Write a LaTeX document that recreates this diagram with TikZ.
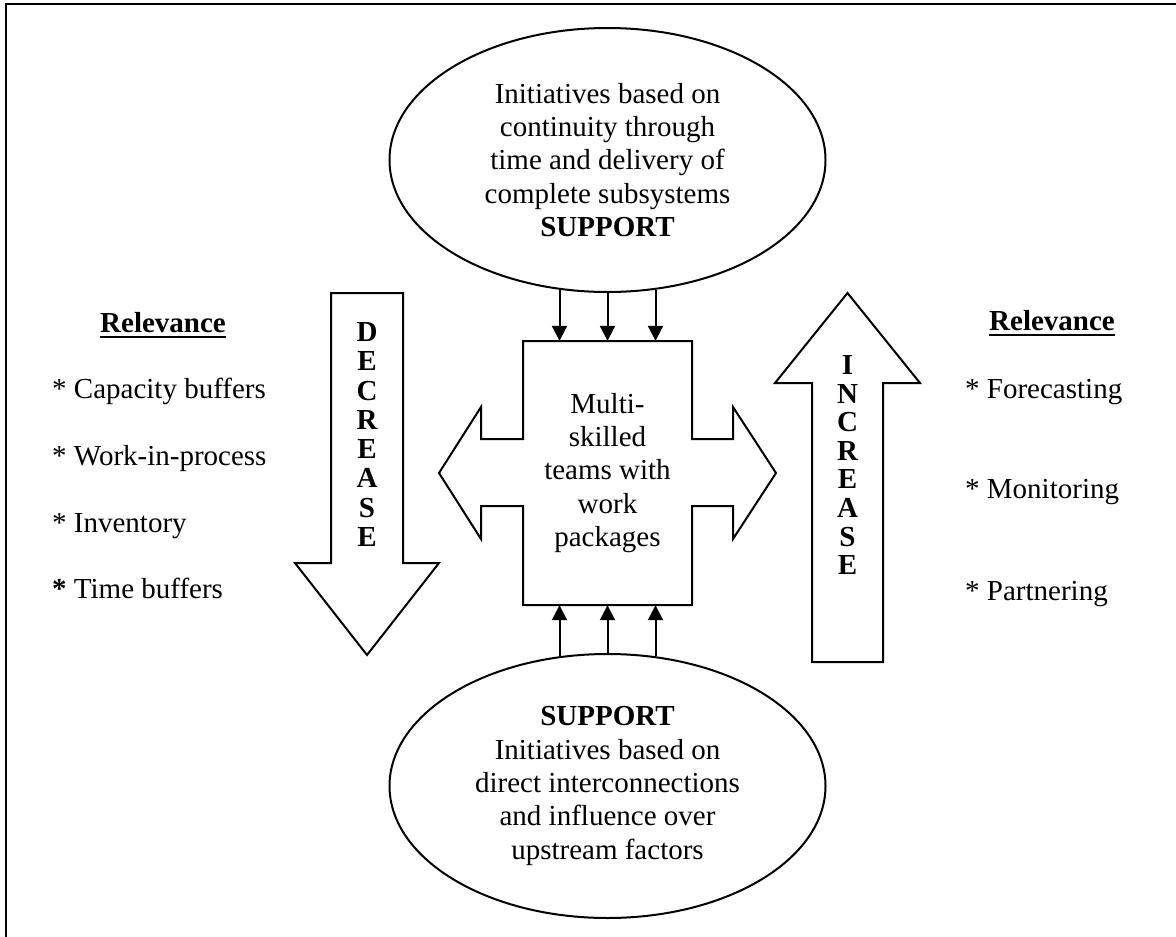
\documentclass[tikz,border=0pt]{standalone}
\usepackage{fontspec}
\setmainfont{Liberation Serif}
\usetikzlibrary{shapes.geometric,arrows.meta}
\begin{document}
\begin{tikzpicture}[x=1pt,y=-1pt,
  shapeline/.style={draw=black,line width=2pt,line join=miter,fill=white},
  txt/.style={font=\fontsize{29}{33.4}\selectfont,inner sep=0pt,align=center},
  ell/.style={ellipse,draw=black,line width=2pt,minimum width=436pt,minimum height=264pt,inner sep=0pt,font=\fontsize{29}{33.4}\selectfont,align=center},
  feed/.style={line width=2pt,-{Triangle[length=15pt,width=15pt]}},
  letters/.style={font=\bfseries,inner sep=0pt,align=center},
  item/.style={font=\fontsize{29}{33.4}\selectfont,inner sep=0pt,anchor=base west},
  head/.style={font=\fontsize{29}{33.4}\selectfont\bfseries,inner sep=0pt,anchor=base},
]
\useasboundingbox (0,0) rectangle (1176,937);
\draw[line width=2.2pt] (6,950) -- (6,4) -- (1190,4);

% central cross shape
\draw[shapeline] (523,341) -- (692,341) -- (692,439) -- (733,439) -- (733,407) -- (776,473)
  -- (733,539) -- (733,506) -- (692,506) -- (692,605) -- (523,605) -- (523,506)
  -- (481,506) -- (481,539) -- (439,473) -- (481,407) -- (481,439) -- (523,439) -- cycle;
\node[txt,minimum width=169pt,minimum height=264pt] (box) at (607.5,473)
  {Multi-\\skilled\\teams with\\work\\packages};

% ellipses
\node[ell] (top) at (607.5,160) {Initiatives based on\\continuity through\\time and delivery of\\complete subsystems\\\textbf{SUPPORT}};
\node[ell] (bot) at (607.5,786) {\textbf{SUPPORT}\\Initiatives based on\\direct interconnections\\and influence over\\upstream factors};

\foreach \dx/\dy in {-48/3,0/0,48/3} {
  \draw[feed] ([xshift=\dx pt,yshift=\dy pt]top.south) -- ([xshift=\dx pt]box.north);
  \draw[feed] ([xshift=\dx pt,yshift=-\dy pt]bot.north) -- ([xshift=\dx pt]box.south);
}

% DECREASE arrow
\draw[shapeline] (331,293) -- (403,293) -- (403,563) -- (439,563) -- (367,655) -- (295,563) -- (331,563) -- cycle;
\node[letters,font=\fontsize{29}{29.3}\selectfont\bfseries] (dec) at (367,434.5) {D\\E\\C\\R\\E\\A\\S\\E};

% INCREASE arrow
\draw[shapeline] (847.5,293) -- (920,383) -- (883,383) -- (883,662) -- (812,662) -- (812,383) -- (775,383) -- cycle;
\node[letters,font=\fontsize{29}{28.6}\selectfont\bfseries] (inc) at (847.5,465) {I\\N\\C\\R\\E\\A\\S\\E};

% left list
\node[head] (relL) at (163,332) {Relevance};
\draw[line width=2.5pt] ([yshift=-5pt]relL.base west) -- ([yshift=-5pt]relL.base east);
\node[item] (l1) at (52,398) {* Capacity buffers};
\node[item] (l2) at (52,465) {* Work-in-process};
\node[item] (l3) at (52,532) {* Inventory};
\node[item] (l4) at (52,598) {\textbf{*} Time buffers};

% right list
\node[head] (relR) at (1052,330) {Relevance};
\draw[line width=2.5pt] ([yshift=-5pt]relR.base west) -- ([yshift=-5pt]relR.base east);
\node[item] (r1) at (965,398) {* Forecasting};
\node[item] (r2) at (965,498) {* Monitoring};
\node[item] (r3) at (965,600) {* Partnering};
\end{tikzpicture}
\end{document}
